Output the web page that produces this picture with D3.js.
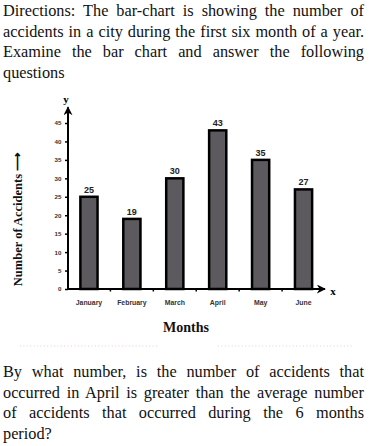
<!DOCTYPE html>
<head>
<meta charset="utf-8">
<title>Accidents bar chart</title>
<script src="https://cdn.jsdelivr.net/npm/d3@7"></script>
<style>
 body { margin: 0; background: #fff; }
</style>
</head>
<body>
<div id="container"></div>
<script>
//*******************
//data
//*******************
const months = ["January", "February", "March", "April", "May", "June"];
const accidents = [25, 19, 30, 43, 35, 27];
const yTicks = [0, 5, 10, 15, 20, 25, 30, 35, 40, 45];

const introLines = [
  "Directions: The bar-chart is showing the number of",
  "accidents in a city during the first six month of a year.",
  "Examine the bar chart and answer the following",
  "questions"
];
const questionLines = [
  "By what number, is the number of accidents that",
  "occurred in April is greater than the average number",
  "of accidents that occurred during the 6 months",
  "period?"
];

//*******************
//setup svg
//*******************
const W = 372, H = 446;
const svg = d3.select("#container").append("svg")
    .attr("width", W)
    .attr("height", H);

const serif = "'Liberation Serif', serif";
const sans = "'Liberation Sans', Arial, sans-serif";

//justified paragraph lines (last line left aligned)
function paragraph(lines, y0, lh) {
  lines.forEach(function(t, i) {
    const txt = svg.append("text")
      .attr("x", 3)
      .attr("y", y0 + i * lh)
      .style("font-family", serif)
      .style("font-size", "16.3px")
      .attr("fill", "#111")
      .text(t);
    if (i < lines.length - 1) {
      const natural = txt.node().getComputedTextLength();
      const spaces = t.split(" ").length - 1;
      txt.style("word-spacing", ((361 - natural) / spaces) + "px");
    }
  });
}
paragraph(introLines, 16, 20.7);
paragraph(questionLines, 377, 20.5);

//faint dotted separators
svg.append("line")
  .attr("x1", 20).attr("x2", 157).attr("y1", 346).attr("y2", 346)
  .attr("stroke", "#f4c6d6").attr("stroke-width", 1)
  .attr("stroke-dasharray", "1,2.4");
svg.append("line")
  .attr("x1", 218).attr("x2", 352).attr("y1", 346).attr("y2", 346)
  .attr("stroke", "#cfd8d8").attr("stroke-width", 1)
  .attr("stroke-dasharray", "1,2.4");

//*******************
//scales
//*******************
const x = d3.scaleBand()
  .domain(months)
  .range([67.5, 325])
  .paddingInner(0.6)
  .paddingOuter(0.3);
const step = x.step();

const y = d3.scaleLinear()
  .domain([0, 45])
  .range([289, 123]);

const x0 = 68;

//*******************
//bars
//*******************
svg.selectAll("rect.bar")
  .data(accidents)
  .enter()
  .append("rect")
  .attr("class", "bar")
  .attr("x", function(d, i) { return x(months[i]); })
  .attr("y", function(d) { return y(d); })
  .attr("width", x.bandwidth())
  .attr("height", function(d) { return y(0) - y(d); })
  .attr("fill", "#5c5a5e")
  .attr("stroke", "#000")
  .attr("stroke-width", 2.5);

//value labels
svg.selectAll("text.val")
  .data(accidents)
  .enter()
  .append("text")
  .attr("class", "val")
  .attr("x", function(d, i) { return x(months[i]) + x.bandwidth() / 2; })
  .attr("y", function(d) { return y(d) - 4; })
  .attr("text-anchor", "middle")
  .style("font-family", sans)
  .style("font-weight", "bold")
  .style("font-size", "9px")
  .attr("fill", "#222")
  .text(function(d) { return d; });

//*******************
//axes
//*******************
const yaxis = d3.axisLeft(y)
  .tickValues(yTicks)
  .tickSize(3)
  .tickPadding(3.5);
const gy = svg.append("g")
  .attr("transform", "translate(" + x0 + ",0)")
  .call(yaxis);
gy.select(".domain").remove();
gy.selectAll(".tick line").attr("stroke", "#000").attr("stroke-width", 1.5);
gy.selectAll(".tick text")
  .style("font-family", sans)
  .style("font-weight", "bold")
  .style("font-size", "6.2px")
  .attr("fill", "#333");

const xaxis = d3.axisBottom(x)
  .tickSize(0)
  .tickPadding(11.5);
const gx = svg.append("g")
  .attr("transform", "translate(0," + y(0) + ")")
  .call(xaxis);
gx.select(".domain").remove();
gx.selectAll(".tick text")
  .style("font-family", sans)
  .style("font-weight", "bold")
  .style("font-size", "6.9px")
  .attr("fill", "#333");

//small ticks between bars
svg.selectAll("line.sep")
  .data(months.slice(1))
  .enter()
  .append("line")
  .attr("class", "sep")
  .attr("x1", function(m) { return x(m) + x.bandwidth() / 2 - step / 2; })
  .attr("x2", function(m) { return x(m) + x.bandwidth() / 2 - step / 2; })
  .attr("y1", y(0))
  .attr("y2", y(0) + 2.5)
  .attr("stroke", "#000")
  .attr("stroke-width", 1.5);

//arrow heads
const defs = svg.append("defs");
defs.append("marker")
  .attr("id", "arrow")
  .attr("viewBox", "0 0 10 10")
  .attr("refX", 9).attr("refY", 5)
  .attr("markerWidth", 4.5).attr("markerHeight", 4.5)
  .attr("orient", "auto")
  .append("path")
  .attr("d", "M0,0 L10,5 L0,10 L3,5 Z")
  .attr("fill", "#000");

//y axis line with arrow
svg.append("line")
  .attr("x1", x0).attr("y1", y(0) + 1)
  .attr("x2", x0).attr("y2", y(49.3))
  .attr("stroke", "#000").attr("stroke-width", 2)
  .attr("marker-end", "url(#arrow)");

//x axis line with arrow
svg.append("line")
  .attr("x1", x0 - 1).attr("y1", y(0))
  .attr("x2", 325).attr("y2", y(0))
  .attr("stroke", "#000").attr("stroke-width", 2)
  .attr("marker-end", "url(#arrow)");

//axis letters
svg.append("text")
  .attr("x", x0 - 2).attr("y", 103)
  .attr("text-anchor", "middle")
  .style("font-family", serif)
  .style("font-weight", "bold")
  .style("font-size", "11px")
  .text("y");
svg.append("text")
  .attr("x", 333).attr("y", 295)
  .attr("text-anchor", "middle")
  .style("font-family", serif)
  .style("font-weight", "bold")
  .style("font-size", "11px")
  .text("x");

//axis titles
svg.append("text")
  .attr("x", 186).attr("y", 332)
  .attr("text-anchor", "middle")
  .style("font-family", serif)
  .style("font-weight", "bold")
  .style("font-size", "14px")
  .attr("fill", "#111")
  .text("Months");

svg.append("text")
  .attr("transform", "translate(22,219) rotate(-90)")
  .attr("text-anchor", "middle")
  .style("font-family", serif)
  .style("font-weight", "bold")
  .style("font-size", "12.5px")
  .attr("fill", "#111")
  .text("Number of Accidents \u27F6");
</script>
</body>
